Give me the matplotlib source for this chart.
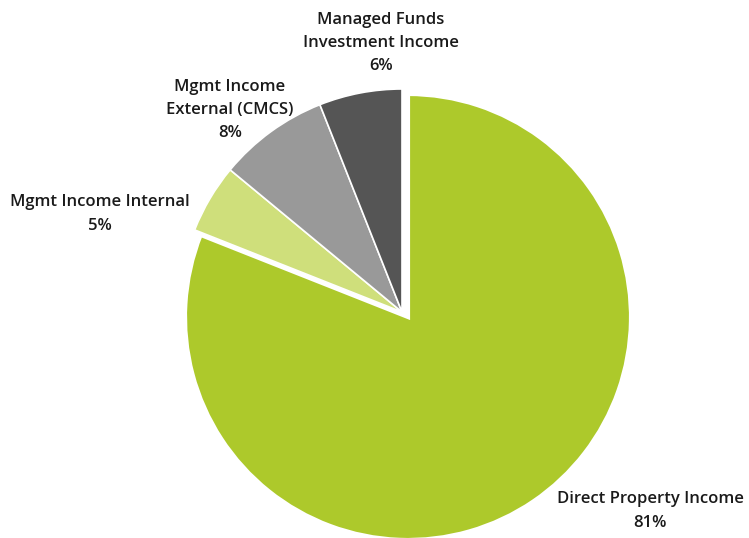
import matplotlib.pyplot as plt

# income split (percent), drawn clockwise from 12 o'clock
labels = ['Direct Property Income', 'Mgmt Income Internal',
          'Mgmt Income External (CMCS)', 'Managed Funds Investment Income']
shares = [81, 5, 8, 6]
colors = ['#adc92b', '#cfdf7b', '#999999', '#555555']

# label text as printed beside each slice
label_text = ['Direct Property Income\n81%',
              'Mgmt Income Internal\n5%',
              'Mgmt Income\nExternal (CMCS)\n8%',
              'Managed Funds\nInvestment Income\n6%']
label_pos = [(650, 511), (100, 214), (230, 110), (381, 43)]  # pixel centres

plt.rcParams['font.family'] = ['Open Sans', 'DejaVu Sans']

W, H = 749, 538
cx, cy, R = 408, 317, 223

fig = plt.figure(figsize=(W / 100, H / 100), dpi=100)
ax = fig.add_axes([0, 0, 1, 1])

wedges, _ = ax.pie(shares, colors=colors, startangle=90, counterclock=False,
                   radius=1.0, wedgeprops=dict(edgecolor='white', linewidth=1.2))

# pull the three small slices away together
for w in wedges[1:]:
    w.set_center((-6 / R, 5 / R))
wedges[0].set_edgecolor('white')
wedges[0].set_linewidth(3)

ax.set_xlim(-cx / R, (W - cx) / R)
ax.set_ylim(-(H - cy) / R, cy / R)
ax.set_aspect('auto')
ax.axis('off')

for txt, (px, py) in zip(label_text, label_pos):
    fig.text(px / W, 1 - py / H, txt, ha='center', va='center',
             fontsize=12, fontweight='semibold', color='#1a1a1a',
             linespacing=1.62)

fig.savefig('out.png', dpi=100)
